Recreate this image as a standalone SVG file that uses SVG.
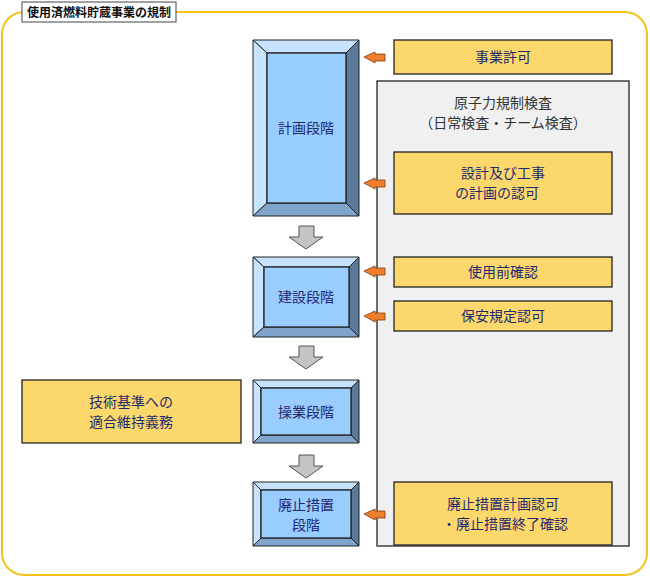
<svg xmlns="http://www.w3.org/2000/svg" width="650" height="578" viewBox="0 0 650 578">
<style>
text{font-family:"Noto Sans CJK JP","Noto Sans CJK SC",sans-serif;font-size:14px;fill:#1f2a6e;text-anchor:middle}
.y{fill:#fcd86c;stroke:#222;stroke-width:1.3}
.o{fill:#ffffff;stroke:#222;stroke-width:1.3}
.c{fill:#99ccff;stroke:#222;stroke-width:1.3}
.bt{fill:#c6e2ff;stroke:#222;stroke-width:1}
.bl{fill:#c8e3ff;stroke:#222;stroke-width:1}
.br{fill:#5b7a99;stroke:#222;stroke-width:1}
.bb{fill:#80a5cc;stroke:#222;stroke-width:1}
.ga{fill:#c4c4c4;stroke:#555;stroke-width:1}
.oa{fill:#f07e2a;stroke:#7a3b10;stroke-width:0.8}
</style>
<rect x="2" y="12" width="645" height="563" rx="22" fill="#fff" stroke="#f5c21b" stroke-width="2"/>
<g id="title">
<rect x="22" y="2" width="154" height="20" fill="#fff" stroke="#444" stroke-width="1"/>
<text x="99" y="17" style="font-size:12px;fill:#111;font-weight:bold">使用済燃料貯蔵事業の規制</text>
</g>
<g id="inspection">
<rect x="377" y="81" width="252" height="465" fill="#f0f0f0" stroke="#222" stroke-width="1.3"/>
<text x="503" y="108" style="fill:#333">原子力規制検査</text>
<text x="503" y="128" style="fill:#333">（日常検査・チーム検査）</text>
</g>
<g id="jigyo"><rect class="y" x="394" y="40" width="218" height="34"/><text x="503" y="62">事業許可</text></g>
<g id="sekkei"><rect class="y" x="394" y="152" width="218" height="62"/><text x="503" y="178">設計及び工事</text><text x="497" y="198">の計画の認可</text></g>
<g id="shiyo"><rect class="y" x="394" y="257" width="218" height="30"/><text x="503" y="277">使用前確認</text></g>
<g id="hoan"><rect class="y" x="394" y="301" width="218" height="30"/><text x="503" y="321">保安規定認可</text></g>
<g id="haishi-nin"><rect class="y" x="394" y="482" width="218" height="63"/><text x="503" y="509">廃止措置計画認可</text><text x="505" y="529">・廃止措置終了確認</text></g>
<g id="gijutsu"><rect class="y" x="22" y="380" width="219" height="63"/><text x="131" y="407">技術基準への</text><text x="131" y="427">適合維持義務</text></g>

<g id="keikaku">
<polygon class="bt" points="253,40 359,40 346,53 267,53"/>
<polygon class="bl" points="253,40 267,53 267,203 253,216"/>
<polygon class="br" points="359,40 359,216 346,203 346,53"/>
<polygon class="bb" points="253,216 267,203 346,203 359,216"/>
<rect class="c" x="267" y="53" width="79" height="150"/>
<text x="306" y="133">計画段階</text>
</g>
<g id="kensetsu">
<polygon class="bt" points="253,257 359,257 349,267 264,267"/>
<polygon class="bl" points="253,257 264,267 264,327 253,337"/>
<polygon class="br" points="359,257 359,337 349,327 349,267"/>
<polygon class="bb" points="253,337 264,327 349,327 359,337"/>
<rect class="c" x="264" y="267" width="85" height="60"/>
<text x="306" y="302">建設段階</text>
</g>
<g id="sogyo">
<polygon class="bt" points="253,380 359,380 351,388 261,388"/>
<polygon class="bl" points="253,380 261,388 261,435 253,443"/>
<polygon class="br" points="359,380 359,443 351,435 351,388"/>
<polygon class="bb" points="253,443 261,435 351,435 359,443"/>
<rect class="c" x="261" y="388" width="90" height="47"/>
<text x="306" y="417">操業段階</text>
</g>
<g id="haishi">
<polygon class="bt" points="253,482 359,482 351,490 261,490"/>
<polygon class="bl" points="253,482 261,490 261,538 253,546"/>
<polygon class="br" points="359,482 359,546 351,538 351,490"/>
<polygon class="bb" points="253,546 261,538 351,538 359,546"/>
<rect class="c" x="261" y="490" width="90" height="48"/>
<text x="306" y="510">廃止措置</text>
<text x="306" y="530">段階</text>
</g>

<g id="connectors">
<polygon class="ga" points="299,226 314,226 314,237 323,237 306,249 289,237 299,237"/>
<polygon class="ga" points="299,346 314,346 314,357 323,357 306,369 289,357 299,357"/>
<polygon class="ga" points="299,455 314,455 314,466 323,466 306,478 289,466 299,466"/>
<polygon class="oa" points="364,57 375,52 375,54 385,54 385,61 375,61 375,63"/>
<polygon class="oa" points="364,183 375,178 375,180 385,180 385,187 375,187 375,189"/>
<polygon class="oa" points="364,271 375,266 375,268 385,268 385,275 375,275 375,277"/>
<polygon class="oa" points="364,316 375,311 375,313 385,313 385,320 375,320 375,322"/>
<polygon class="oa" points="364,514 375,509 375,511 385,511 385,518 375,518 375,520"/>
</g>
</svg>
